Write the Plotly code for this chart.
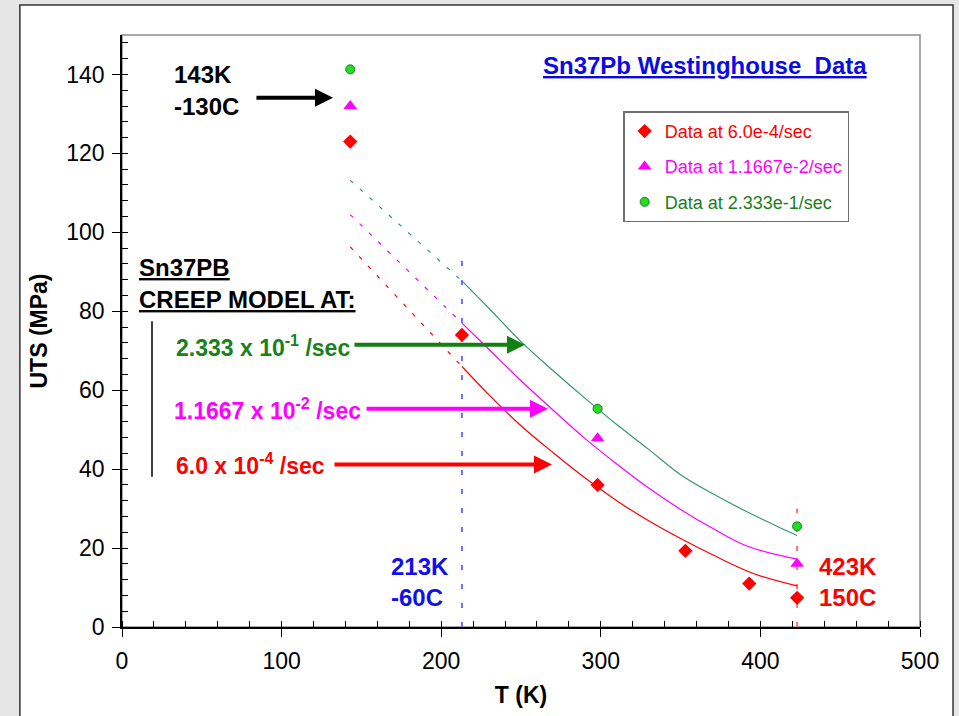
import plotly.graph_objects as go

# ---------------- data ----------------
# measured data points
T_red = [143, 213, 298, 353, 393, 423]
uts_red = [123, 74, 36, 19.3, 11, 7.4]
T_mag = [143, 298, 423]
uts_mag = [132, 47.8, 16]
T_grn = [143, 298, 423]
uts_grn = [141.3, 55.3, 25.5]

# creep-model curves (solid part)
grn_model_T = [213, 230, 250, 270, 290, 310, 330, 350, 370, 390, 410, 423]
grn_model_U = [87.7, 80.7, 72.3, 65, 58, 51.3, 45, 38.6, 33.8, 29.5, 25.6, 23.2]
mag_model_T = [213, 230, 250, 270, 290, 310, 330, 350, 370, 391, 423]
mag_model_U = [77, 70.3, 62.4, 55, 47.8, 41.3, 35.2, 29.8, 25, 20.6, 17.2]
red_model_T = [213, 230, 250, 270, 290, 310, 330, 350, 370, 396, 423]
red_model_U = [66, 58.8, 51, 44.2, 37.8, 32, 26.9, 22.4, 18.3, 13.5, 10.4]

# extrapolated (dashed) parts
ext_T = [143, 213]
grn_ext_U = [113.2, 87.7]
mag_ext_U = [104.5, 77]
red_ext_U = [96.3, 66]

# reference temperature lines
ref_T_blue = [213, 213]
ref_U_blue = [0, 94.5]
ref_T_red = [423, 423]
ref_U_red = [0, 30]

x_ticks = [0, 100, 200, 300, 400, 500]
y_ticks = [0, 20, 40, 60, 80, 100, 120, 140]

RED = "#ff0000"
MAG = "#ff00ff"
GRN_LINE = "#33996a"
GRN_TXT = "#1a801a"
FONT = "Arial, Liberation Sans, sans-serif"

fig = go.Figure()

# reference lines
fig.add_trace(go.Scatter(x=ref_T_blue, y=ref_U_blue, mode="lines",
                         line=dict(color="#6f6fff", width=2, dash="5px,14px"),
                         showlegend=False, hoverinfo="skip"))
fig.add_trace(go.Scatter(x=ref_T_red, y=ref_U_red, mode="lines",
                         line=dict(color="#ff7070", width=2, dash="5px,14px"),
                         showlegend=False, hoverinfo="skip"))

# dashed extensions
for u, c in [(grn_ext_U, GRN_LINE), (mag_ext_U, MAG), (red_ext_U, RED)]:
    fig.add_trace(go.Scatter(x=ext_T, y=u, mode="lines",
                             line=dict(color=c, width=1.2, dash="4px,9px"),
                             showlegend=False, hoverinfo="skip"))

# solid model curves
for t, u, c in [(grn_model_T, grn_model_U, GRN_LINE),
                (mag_model_T, mag_model_U, MAG),
                (red_model_T, red_model_U, RED)]:
    fig.add_trace(go.Scatter(x=t, y=u, mode="lines",
                             line=dict(color=c, width=1.2, shape="spline", smoothing=1.0),
                             showlegend=False, hoverinfo="skip"))

# data markers
fig.add_trace(go.Scatter(x=T_red, y=uts_red, mode="markers",
                         name='<span style="color:#ff0000">Data at 6.0e-4/sec</span>',
                         legendgroup="a",
                         marker=dict(symbol="diamond", size=11, color=RED)))
fig.add_trace(go.Scatter(x=T_mag, y=uts_mag, mode="markers",
                         name='<span style="color:#ff00ff">Data at 1.1667e-2/sec</span>',
                         legendgroup="b",
                         marker=dict(symbol="triangle-up", size=12, color=MAG)))
fig.add_trace(go.Scatter(x=T_grn, y=uts_grn, mode="markers",
                         name='<span style="color:#1a801a">Data at 2.333e-1/sec</span>',
                         legendgroup="c",
                         marker=dict(symbol="circle", size=9, color="#22dd22",
                                     line=dict(color="#1a801a", width=1))))

ann = []
def txt(x, y, s, color="black", size=24, xanchor="left", bold=True):
    ann.append(dict(x=x, y=y, xref="x", yref="y", text=(f"<b>{s}</b>" if bold else s),
                    showarrow=False, xanchor=xanchor, yanchor="middle",
                    font=dict(family=FONT, size=size, color=color)))

def arrow(x0, x1, y, color):
    ann.append(dict(x=x1, y=y, ax=x0, ay=y, xref="x", yref="y", axref="x", ayref="y",
                    text="", showarrow=True, arrowhead=2, arrowsize=0.9,
                    arrowwidth=4, arrowcolor=color))

txt(31.3, 139.9, "143K")
txt(31.3, 131.8, "-130C")
arrow(83.3, 132.2, 134.1, "black")

txt(365.3, 142.2, "<u>Sn37Pb Westinghouse&nbsp; Data</u>", color="#0a0ae6", size=24, xanchor="center")

txt(9.4, 91.2, "<u>Sn37PB</u>")
txt(9.4, 83.1, "<u>CREEP MODEL AT:</u>")

txt(32.5, 71.2, "2.333 x 10<sup>-1</sup> /sec", color=GRN_TXT, size=23)
txt(31.5, 55.3, "1.1667 x 10<sup>-2</sup> /sec", color=MAG, size=23)
txt(32.5, 41.4, "6.0 x 10<sup>-4</sup> /sec", color=RED, size=23)
arrow(144.7, 252.5, 71.5, "#138013")
arrow(152.3, 266.9, 55.3, MAG)
arrow(132.2, 269.4, 41.2, RED)

txt(167.5, 15.4, "213K", color="#1010ee")
txt(167.5, 7.4, "-60C", color="#1010ee")
txt(435.5, 15.4, "423K", color=RED)
txt(435.5, 7.4, "150C", color=RED)

shapes = [
    # white panel
    dict(type="rect", xref="paper", yref="paper", x0=-0.128, x1=1.0414, y0=-0.25, y1=1.0505,
         fillcolor="white", line=dict(color="#333333", width=1.5), layer="below"),
    # plot frame (top/right gray)
    dict(type="rect", xref="paper", yref="paper", x0=0, x1=1, y0=0, y1=1,
         fillcolor="rgba(0,0,0,0)", line=dict(color="#8c8c8c", width=1.5), layer="below"),
    # bracket line beside model labels
    dict(type="line", xref="x", yref="y", x0=18.8, x1=18.8, y0=38.1, y1=77.5,
         line=dict(color="black", width=1.5)),
]

fig.update_layout(
    width=959, height=716,
    margin=dict(l=122, r=39, t=35, b=87),
    paper_bgcolor="#e6e6e6",
    plot_bgcolor="white",
    font=dict(family=FONT, color="black"),
    annotations=ann,
    shapes=shapes,
    showlegend=True,
    legend=dict(x=0.628, y=0.871, xanchor="left", yanchor="top",
                bgcolor="white", bordercolor="#707070", borderwidth=1.5,
                font=dict(family=FONT, size=18), tracegroupgap=9,
                itemwidth=30),
    xaxis=dict(range=[0, 500], tickvals=x_ticks, ticks="outside", ticklen=8,
               tickcolor="black", tickwidth=1.2, ticklabelstandoff=5,
               minor=dict(dtick=20, ticks="inside", ticklen=6, tickcolor="black", tickwidth=1.2),
               showgrid=False, zeroline=False, showline=True, linecolor="black", linewidth=1.5,
               tickfont=dict(family=FONT, size=23),
               title=dict(text="<b>T (K)</b>", font=dict(family=FONT, size=23), standoff=14)),
    yaxis=dict(range=[0, 150], tickvals=y_ticks, ticks="outside", ticklen=8,
               tickcolor="black", tickwidth=1.2, ticklabelstandoff=3,
               minor=dict(dtick=4, ticks="inside", ticklen=6, tickcolor="black", tickwidth=1.2),
               showgrid=False, zeroline=False, showline=True, linecolor="black", linewidth=1.5,
               tickfont=dict(family=FONT, size=23),
               title=dict(text="<b>UTS (MPa)</b>", font=dict(family=FONT, size=23), standoff=12)),
)

fig.write_html("out.html")
